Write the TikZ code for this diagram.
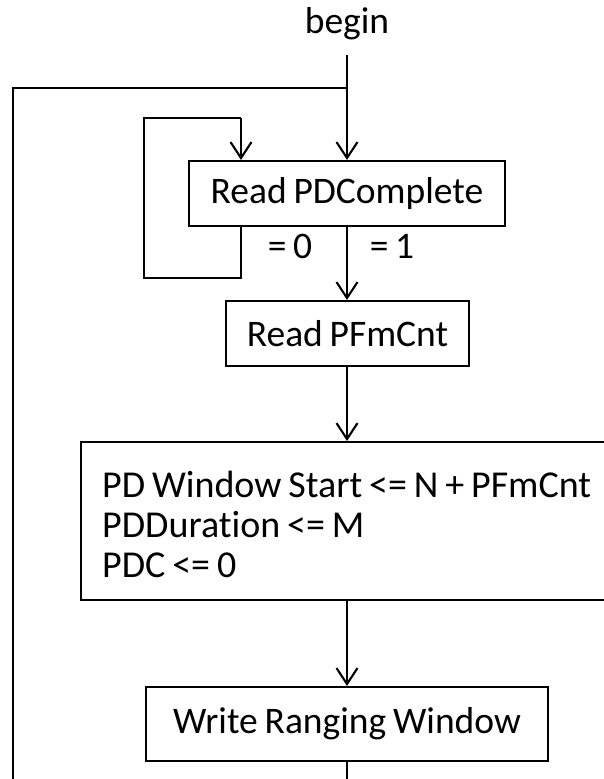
\documentclass[tikz,border=0pt]{standalone}
\usepackage{fontspec}
\setmainfont{Carlito}[Ligatures=NoCommon,WordSpace={0.8,0,0}]
\usetikzlibrary{arrows.meta,calc}
\begin{document}
\begin{tikzpicture}[x=1pt,y=-1pt,
  every node/.style={font=\fontsize{37.5}{40}\selectfont},
  conn/.style={line width=2.1pt},
  arr/.style={conn,-{Straight Barb[length=16pt,width=21pt,line width=2.1pt]}},
  boxnode/.style={draw,line width=2.1pt,inner sep=0pt}]
\clip (0,0) rectangle (604,779);
\useasboundingbox (0,0) rectangle (604,779);
\node[anchor=base] (begin) at (347,33) {begin};
\node[boxnode,minimum width=316pt,minimum height=65pt] (b1) at (347,193.5) {Read PDComplete};
\node[boxnode,minimum width=243pt,minimum height=65pt] (b2) at (347.5,333.5) {Read PFmCnt};
\node[boxnode,anchor=north west,minimum width=560pt,minimum height=158pt] (b3) at (80,441) {};
\node[anchor=base west,inner sep=0pt,align=left,font=\fontsize{38}{40}\selectfont] (t3) at (102,577)
      {PD Window Start <= N + PFmCnt\\PDDuration <= M\\PDC <= 0};
\node[boxnode,minimum width=402pt,minimum height=74pt] (b4) at (347,724) {Write Ranging Window};
\node[anchor=base] (l0) at (290,258) {= 0};
\node[anchor=base] (l1) at (392,258) {= 1};
\coordinate (top) at (347,55);
\coordinate (j) at (347,88);
\coordinate (lt) at (13,88);
\coordinate (lb) at (13,779);
\coordinate (lp1) at (241,278);
\coordinate (lp2) at (144,278);
\coordinate (lp3) at (144,118);
\coordinate (lp4) at (241,118);
\coordinate (bot) at (347,779);
\draw[arr] (top) -- (b1.north -| top);
\draw[conn] (j) -- (lt) -- (lb);
\draw[conn] (b1.south -| lp1) -- (lp1) -- (lp2) -- (lp3) -- (lp4);
\draw[arr] (lp4) -- (b1.north -| lp4);
\draw[arr] (b1.south -| top) -- (b2.north -| top);
\draw[arr] (b2.south -| top) -- (b3.north -| top);
\draw[arr] (b3.south -| top) -- (b4.north -| top);
\draw[conn] (b4.south -| top) -- (bot);
\end{tikzpicture}
\end{document}
